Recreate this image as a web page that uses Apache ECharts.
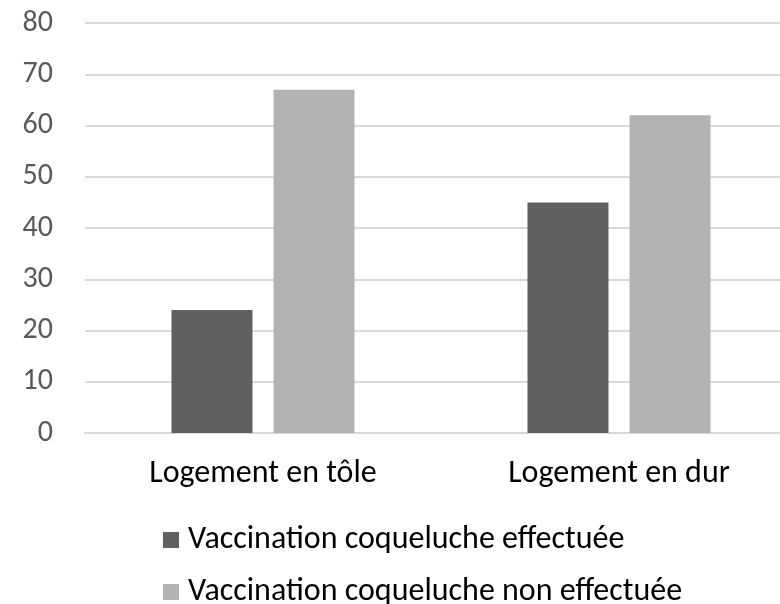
<!DOCTYPE html>
<html>
<head>
<meta charset="utf-8">
<script src="https://cdn.jsdelivr.net/npm/echarts@6/dist/echarts.min.js"></script>
<style>html,body{margin:0;padding:0;background:#fff;}#c{width:780px;height:604px;}</style>
</head>
<body>
<div id="c"></div>
<script>
const categories = ["Logement en tôle", "Logement en dur"];
const seriesNames = ["Vaccination coqueluche effectuée", "Vaccination coqueluche non effectuée"];
const valuesDone = [24, 45];
const valuesNotDone = [67, 62];
const yTicks = { min: 0, max: 80, interval: 10 };

const font = "Carlito, Lato, 'Open Sans', sans-serif";
const chart = echarts.init(document.getElementById('c'), null, { renderer: 'canvas' });
const legendCommon = {
  orient: 'vertical', left: 158,
  itemWidth: 16, itemHeight: 16, icon: 'rect',
  textStyle: { fontSize: 32, color: '#000000', fontFamily: font, padding: [0, 0, 0, 4] }
};
chart.setOption({
  animation: false,
  backgroundColor: '#ffffff',
  textStyle: { fontFamily: font },
  grid: { left: 85, top: 23, width: 712, height: 410, containLabel: false, outerBoundsMode: 'none' },
  legend: [
    Object.assign({}, legendCommon, { top: 519, data: [seriesNames[0]] }),
    Object.assign({}, legendCommon, { top: 571, data: [seriesNames[1]] })
  ],
  xAxis: {
    type: 'category', data: categories,
    axisLine: { show: true, lineStyle: { color: '#d9d9d9', width: 2 } },
    axisTick: { show: false },
    axisLabel: { fontSize: 32, color: '#000000', margin: 25, fontFamily: font }
  },
  yAxis: {
    type: 'value', min: yTicks.min, max: yTicks.max, interval: yTicks.interval,
    axisLine: { show: false }, axisTick: { show: false },
    splitLine: { lineStyle: { color: '#d9d9d9', width: 2 } },
    axisLabel: { fontSize: 30, color: '#595959', margin: 32, fontFamily: font }
  },
  series: [
    { name: seriesNames[0], type: 'bar', data: valuesDone, barWidth: 81, barGap: '26%',
      itemStyle: { color: '#5f5f5f' } },
    { name: seriesNames[1], type: 'bar', data: valuesNotDone, barWidth: 81,
      itemStyle: { color: '#b2b2b2' } }
  ]
});
</script>
</body>
</html>
